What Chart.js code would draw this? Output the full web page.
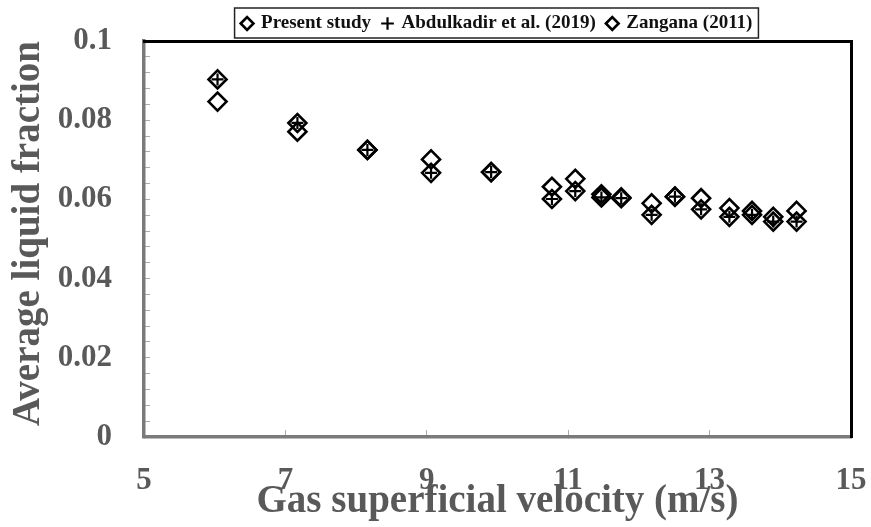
<!DOCTYPE html>
<html>
<head>
<meta charset="utf-8">
<script src="https://cdn.jsdelivr.net/npm/chart.js@4/dist/chart.umd.min.js"></script>
<style>
  html, body { margin: 0; padding: 0; background: #fff; }
  #wrap { width: 871px; height: 527px; }
</style>
</head>
<body>
<div id="wrap"><canvas id="holdupChart"></canvas></div>
<script>
// gas superficial velocity (m/s)
const velocity = [6.04, 7.17, 8.16, 9.06, 9.91, 10.77, 11.10, 11.47, 11.75, 12.18, 12.51, 12.88, 13.28, 13.60, 13.90, 14.23];
// average liquid fraction
const presentStudy = [0.0847, 0.0771, 0.0725, 0.0701, 0.0669, 0.0632, 0.0652, 0.0613, 0.0605, 0.0590, 0.0607, 0.0603, 0.0578, 0.0571, 0.0556, 0.0571];
const abdulkadir = [0.0903, 0.0793, 0.0725, 0.0667, 0.0669, 0.0601, 0.0621, 0.0605, 0.0603, 0.0561, 0.0607, 0.0575, 0.0556, 0.0561, 0.0544, 0.0544];
const zangana = [0.0903, 0.0793, 0.0725, 0.0667, 0.0669, 0.0601, 0.0621, 0.0605, 0.0603, 0.0561, 0.0607, 0.0575, 0.0556, 0.0561, 0.0544, 0.0544];

const xTicks = [5, 7, 9, 11, 13, 15];
const yMajorTicks = [0, 0.02, 0.04, 0.06, 0.08, 0.1];

const serif = "'Liberation Serif', 'Times New Roman', serif";
const axisGrey = "#595959";

const toPoints = (ys) => velocity.map((v, i) => ({ x: v, y: ys[i] }));

// box around the legend, like the excel one
const legendBox = {
  id: "legendBox",
  afterDraw(chart) {
    const lg = chart.legend;
    if (!lg || !lg.legendHitBoxes.length) return;
    const boxes = lg.legendHitBoxes;
    const last = boxes[boxes.length - 1];
    const left = boxes[0].left - 8;
    const right = last.left + last.width + 6;
    const top = boxes[0].top - 6;
    const bottom = boxes[0].top + boxes[0].height + 5;
    const ctx = chart.ctx;
    ctx.save();
    ctx.strokeStyle = "#222";
    ctx.lineWidth = 1.5;
    ctx.strokeRect(left, top, right - left, bottom - top);
    ctx.restore();
  }
};

const ctx = document.getElementById("holdupChart").getContext("2d");
const chart = new Chart(ctx, {
  type: "scatter",
  data: {
    datasets: [
      {
        label: "Present study",
        data: toPoints(presentStudy),
        pointStyle: "rectRot",
        pointRadius: 9,
        pointBorderWidth: 2.6,
        borderColor: "#000",
        backgroundColor: "rgba(0,0,0,0)",
      },
      {
        label: "Abdulkadir et al. (2019)",
        data: toPoints(abdulkadir),
        pointStyle: "cross",
        pointRadius: 6,
        pointBorderWidth: 2.2,
        borderColor: "#000",
        backgroundColor: "#000",
      },
      {
        label: "Zangana (2011)",
        data: toPoints(zangana),
        pointStyle: "rectRot",
        pointRadius: 9,
        pointBorderWidth: 2.6,
        borderColor: "#000",
        backgroundColor: "rgba(0,0,0,0)",
      },
    ],
  },
  options: {
    responsive: true,
    maintainAspectRatio: false,
    animation: false,
    layout: {
      padding: { top: 2, right: 20, bottom: 0, left: 6 },
    },
    plugins: {
      tooltip: { enabled: false },
      legend: {
        position: "top",
        fullSize: false,
        maxHeight: 39,
        labels: {
          usePointStyle: true,
          boxWidth: 9,
          boxHeight: 9,
          padding: 12,
          color: "#111",
          font: { family: serif, size: 19, weight: "bold" },
        },
      },
    },
    scales: {
      x: {
        type: "linear",
        min: 5,
        max: 15,
        afterBuildTicks: (axis) => {
          axis.ticks = xTicks.map((v) => ({ value: v }));
        },
        // labels sit far from the axis, don't let that padding eat the plot
        afterFit: (axis) => {
          axis.height = 90;
          axis.paddingLeft = 0;
          axis.paddingRight = 0;
        },
        border: { color: "#7a7a7a", width: 3.5 },
        grid: {
          drawOnChartArea: false,
          drawTicks: true,
          tickLength: -7,
          color: "#aaa",
        },
        ticks: {
          color: axisGrey,
          padding: 32,
          font: { family: serif, size: 31, weight: "bold" },
        },
        title: {
          display: true,
          text: "Gas superficial velocity (m/s)",
          color: axisGrey,
          padding: { top: 0, bottom: 2 },
          font: { family: serif, size: 39, weight: "bold" },
        },
      },
      y: {
        type: "linear",
        min: 0,
        max: 0.1,
        afterFit: (axis) => {
          axis.width = 138;
          axis.paddingTop = 0;
          axis.paddingBottom = 0;
        },
        ticks: {
          stepSize: 0.004,
          autoSkip: false,
          color: axisGrey,
          padding: 38,
          font: { family: serif, size: 31, weight: "bold" },
          callback: (value) => {
            const hit = yMajorTicks.find((t) => Math.abs(t - value) < 1e-6);
            return hit === undefined ? "" : String(hit);
          },
        },
        border: { color: "#7a7a7a", width: 3.5 },
        grid: {
          drawOnChartArea: false,
          drawTicks: true,
          tickLength: -6,
          color: "#aaa",
        },
        title: {
          display: true,
          align: "end",
          text: "Average liquid fraction",
          color: axisGrey,
          padding: { top: 0, bottom: 0 },
          font: { family: serif, size: 39, weight: "bold" },
        },
      },
      xTop: {
        type: "linear",
        position: "top",
        min: 5,
        max: 15,
        ticks: { display: false },
        grid: { display: false, drawTicks: false },
        border: { color: "#000", width: 3 },
      },
      yRight: {
        type: "linear",
        position: "right",
        min: 0,
        max: 0.1,
        ticks: { display: false },
        grid: { display: false, drawTicks: false },
        border: { color: "#000", width: 3 },
      },
    },
  },
  plugins: [legendBox],
});
</script>
</body>
</html>
